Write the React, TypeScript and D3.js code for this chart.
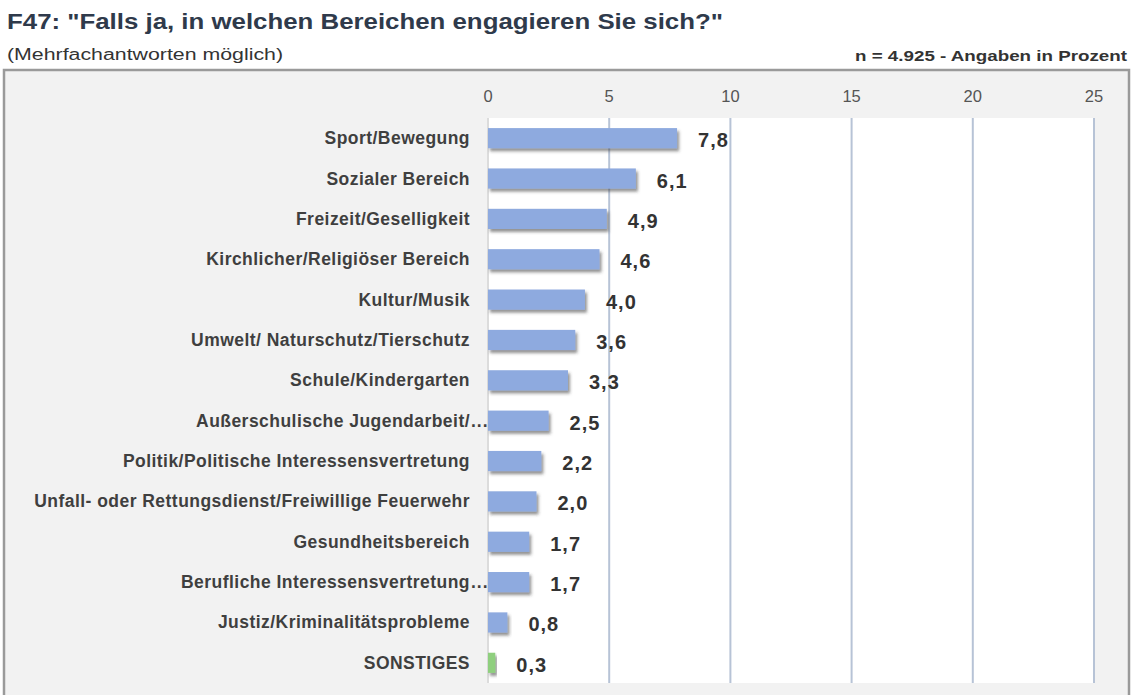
import React from "react";
import * as d3 from "d3";

const categories = [
  "Sport/Bewegung",
  "Sozialer Bereich",
  "Freizeit/Geselligkeit",
  "Kirchlicher/Religiöser Bereich",
  "Kultur/Musik",
  "Umwelt/ Naturschutz/Tierschutz",
  "Schule/Kindergarten",
  "Außerschulische Jugendarbeit/",
  "Politik/Politische Interessensvertretung",
  "Unfall- oder Rettungsdienst/Freiwillige Feuerwehr",
  "Gesundheitsbereich",
  "Berufliche Interessensvertretung",
  "Justiz/Kriminalitätsprobleme",
  "SONSTIGES",
];
const truncated = [false, false, false, false, false, false, false, true, false, false, false, true, false, false];
const values = [7.8, 6.1, 4.9, 4.6, 4.0, 3.6, 3.3, 2.5, 2.2, 2.0, 1.7, 1.7, 0.8, 0.3];
const ticks = [0, 5, 10, 15, 20, 25];

const title = 'F47: "Falls ja, in welchen Bereichen engagieren Sie sich?"';
const subtitle = "(Mehrfachantworten möglich)";
const note = "n = 4.925 - Angaben in Prozent";

export default function App() {
  const W = 1140;
  const H = 695;
  const plotL = 488;
  const plotR = 1094;
  const plotT = 118;
  const plotB = 683;

  const x = d3.scaleLinear().domain([0, 25]).range([plotL, plotR]);
  const y = d3
    .scaleBand<string>()
    .domain(categories)
    .range([plotT, plotB])
    .paddingInner(0.5)
    .paddingOuter(0.25);

  const fmt = (v: number) => d3.format(".1f")(v).replace(".", ",");
  const font = "Arial, 'Liberation Sans', sans-serif";

  return (
    <svg
      width={W}
      height={H}
      style={{ position: "absolute", left: 0, top: 0, background: "#fff" }}
      fontFamily={font}
    >
      <defs>
        <filter id="shadow" x="-10%" y="-30%" width="130%" height="180%">
          <feDropShadow dx="2" dy="3" stdDeviation="1.6" floodColor="#3a3a3a" floodOpacity="0.55" />
        </filter>
      </defs>

      <text
        x={7}
        y={29}
        fontSize={22}
        fontWeight="bold"
        fill="#2f3a4b"
        textLength={716}
        lengthAdjust="spacingAndGlyphs"
      >
        {title}
      </text>
      <text x={7} y={60} fontSize={16} fill="#333" textLength={276} lengthAdjust="spacingAndGlyphs">
        {subtitle}
      </text>
      <text
        x={855}
        y={61}
        fontSize={15.5}
        fontWeight="bold"
        fill="#333"
        textLength={272}
        lengthAdjust="spacingAndGlyphs"
      >
        {note}
      </text>

      {/* frame */}
      <rect x={4} y={70} width={1125} height={640} fill="#f2f2f2" stroke="#9a9a9a" strokeWidth={2.5} />

      {/* plot area */}
      <rect x={plotL} y={plotT} width={plotR - plotL + 1} height={plotB - plotT} fill="#ffffff" />

      {ticks.map((t) => (
        <g key={t}>
          <line
            x1={x(t)}
            x2={x(t)}
            y1={plotT}
            y2={plotB}
            stroke={t === 0 ? "#dcdcdc" : "#b7c3d6"}
            strokeWidth={2}
          />
          <text x={x(t)} y={102} fontSize={16.5} fill="#555" textAnchor="middle">
            {t}
          </text>
        </g>
      ))}

      {categories.map((c, i) => {
        const yy = y(c)!;
        const bw = y.bandwidth();
        const cy = yy + bw / 2;
        return (
          <g key={c}>
            <rect
              x={x(0)}
              y={yy}
              width={x(values[i]) - x(0)}
              height={bw}
              fill={c === "SONSTIGES" ? "#8fcf7e" : "#8eaadf"}
              filter="url(#shadow)"
            />
            <text
              x={470}
              y={cy + 6}
              fontSize={17.5}
              fontWeight="bold"
              fill="#3f3f3f"
              textAnchor="end"
              letterSpacing={0.46}
            >
              {c}
            </text>
            {truncated[i] && (
              <text x={471} y={cy + 6} fontSize={17.5} fontWeight="bold" fill="#3f3f3f" letterSpacing={1}>
                ...
              </text>
            )}
            <text
              x={x(values[i]) + 21}
              y={cy + 9}
              fontSize={20}
              fontWeight="bold"
              fill="#333"
              letterSpacing={1}
            >
              {fmt(values[i])}
            </text>
          </g>
        );
      })}
    </svg>
  );
}
